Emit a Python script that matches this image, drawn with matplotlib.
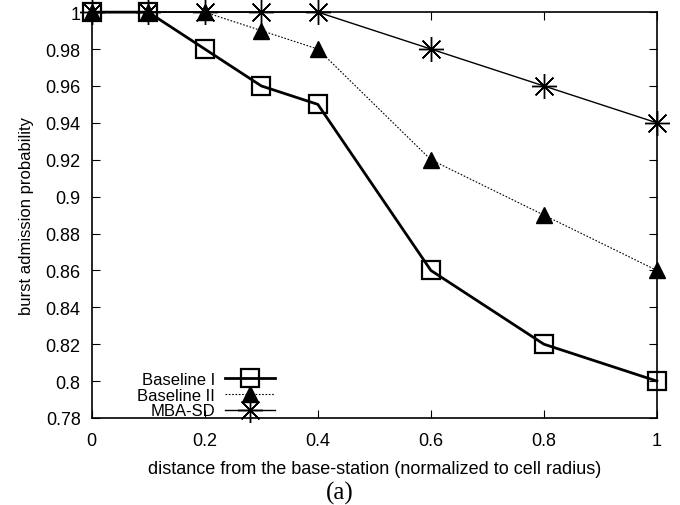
import numpy as np
import matplotlib
matplotlib.use('Agg')
import matplotlib.pyplot as plt
from matplotlib.ticker import FuncFormatter

plt.rcParams['font.family'] = ['Liberation Sans', 'DejaVu Sans']

x = [0, 0.1, 0.2, 0.3, 0.4, 0.6, 0.8, 1.0]
baseline1 = [1.0, 1.0, 0.98, 0.96, 0.95, 0.86, 0.82, 0.80]
baseline2 = [1.0, 1.0, 1.0, 0.99, 0.98, 0.92, 0.89, 0.86]
mbasd = [1.0, 1.0, 1.0, 1.0, 1.0, 0.98, 0.96, 0.94]

fig = plt.figure(figsize=(6.8, 5.06), dpi=100)
ax = fig.add_axes([0.135, 0.172, 0.831, 0.802])

ax.plot(x, baseline1, color='black', lw=2, marker='s', ms=13,
        mfc='none', mec='black', mew=1.6, label='Baseline I', clip_on=False, zorder=3)
ax.plot(x, baseline2, color='black', lw=0.8, ls=(0, (1.5, 1.5)), marker='^', ms=11,
        mfc='black', mec='black', label='Baseline II', clip_on=False, zorder=4)
ax.plot(x, mbasd, color='black', lw=1, marker=(8, 2, 0), ms=18, mew=1,
        label='MBA-SD', clip_on=False, zorder=5)

ax.set_xlim(0, 1)
ax.set_ylim(0.78, 1.0)
ax.set_xticks(np.arange(0, 1.01, 0.2))
ax.set_yticks(np.arange(0.78, 1.001, 0.02))
fmt = FuncFormatter(lambda v, p: '%g' % round(v, 2))
ax.xaxis.set_major_formatter(fmt)
ax.yaxis.set_major_formatter(fmt)
ax.tick_params(direction='in', top=True, right=True, length=6, labelsize=13, pad=8)
ax.tick_params(axis='x', pad=10)
for s in ax.spines.values():
    s.set_linewidth(1.2)

ax.set_xlabel('distance from the base-station (normalized to cell radius)', fontsize=13, labelpad=8)
ax.set_ylabel('burst admission probability', fontsize=12, labelpad=8)

ax.legend(loc='lower left', bbox_to_anchor=(0.06, -0.03), frameon=False, markerfirst=False,
          fontsize=12, handlelength=3, handletextpad=0.6, labelspacing=0.05, borderpad=0.2)

fig.text(0.5, 0.012, '(a)', ha='center', fontsize=18, family='Liberation Serif')

fig.savefig('out.png', dpi=100)
